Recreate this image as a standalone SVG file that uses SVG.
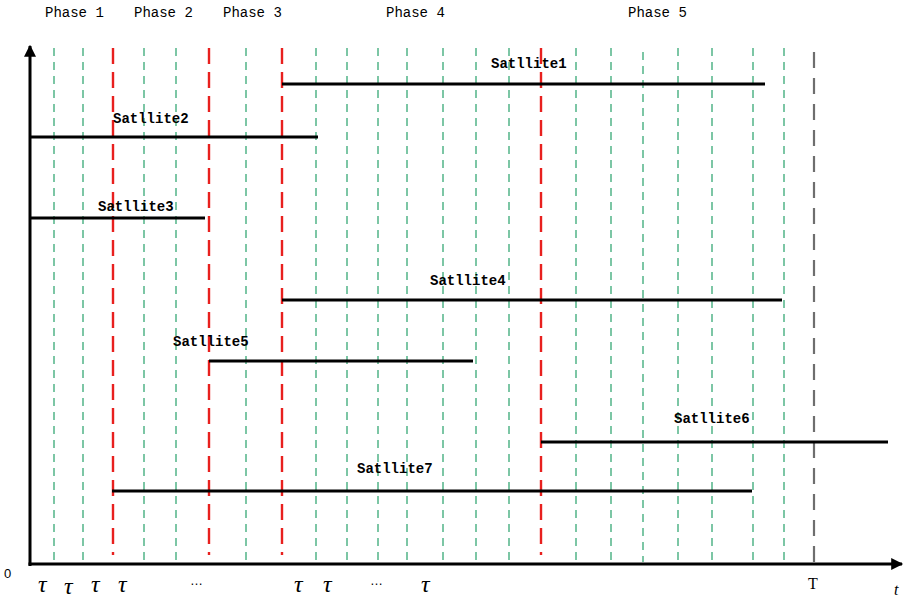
<svg xmlns="http://www.w3.org/2000/svg" width="907" height="599" viewBox="0 0 907 599">
<defs>
<style>
.g{stroke:#5cb88f;stroke-width:1.6;stroke-dasharray:8 6;fill:none}
.r{stroke:#e8201e;stroke-width:2.4;stroke-dasharray:16 8;fill:none}
.k{stroke:#6e6e6e;stroke-width:2.2;stroke-dasharray:16 10;fill:none}
.sat{stroke:#000;stroke-width:3;fill:none}
.ax{stroke:#000;stroke-width:3;fill:none}
.ph{font-family:"Liberation Mono","DejaVu Sans Mono",monospace;font-size:14px;fill:#000}
.sl{font-family:"Liberation Mono","DejaVu Sans Mono",monospace;font-size:14px;font-weight:bold;fill:#000}
.tau{font-family:"Liberation Serif","DejaVu Serif",serif;font-style:italic;font-size:24px;fill:#000}
.tx{font-family:"Liberation Sans","DejaVu Sans",sans-serif;font-size:13px;fill:#000}
</style>
<marker id="arr" viewBox="0 0 10 10" refX="9" refY="5" markerWidth="4.2" markerHeight="4" orient="auto-start-reverse" markerUnits="strokeWidth">
<path d="M0,0 L10,5 L0,10 z" fill="#000"/>
</marker>
</defs>
<rect width="907" height="599" fill="#fff"/>
<g id="phases">
<text class="ph" x="45" y="17">Phase 1</text>
<text class="ph" x="134" y="17">Phase 2</text>
<text class="ph" x="223" y="17">Phase 3</text>
<text class="ph" x="386" y="17">Phase 4</text>
<text class="ph" x="628" y="17">Phase 5</text>
</g>
<g id="grid">
<g class="g">
<line x1="54" y1="48" x2="54" y2="562"/>
<line x1="83" y1="48" x2="83" y2="562"/>
<line x1="144" y1="48" x2="144" y2="562"/>
<line x1="176" y1="48" x2="176" y2="562"/>
<line x1="246" y1="48" x2="246" y2="562"/>
<line x1="316" y1="48" x2="316" y2="562"/>
<line x1="347" y1="48" x2="347" y2="562"/>
<line x1="378" y1="48" x2="378" y2="562"/>
<line x1="407" y1="48" x2="407" y2="562"/>
<line x1="443" y1="48" x2="443" y2="562"/>
<line x1="476" y1="48" x2="476" y2="562"/>
<line x1="509" y1="48" x2="509" y2="562"/>
<line x1="576" y1="48" x2="576" y2="562"/>
<line x1="611" y1="48" x2="611" y2="562"/>
<line x1="643" y1="52" x2="643" y2="562"/>
<line x1="678" y1="48" x2="678" y2="562"/>
<line x1="712" y1="48" x2="712" y2="562"/>
<line x1="753" y1="48" x2="753" y2="562"/>
<line x1="784" y1="48" x2="784" y2="562"/>
</g>
<g class="r">
<line x1="113" y1="48" x2="113" y2="555"/>
<line x1="209" y1="48" x2="209" y2="555"/>
<line x1="282" y1="48" x2="282" y2="555"/>
<line x1="541" y1="48" x2="541" y2="555"/>
</g>
<line class="k" x1="814" y1="52" x2="814" y2="562"/>
</g>
<g id="axes">
<line class="ax" x1="30" y1="566" x2="30" y2="46" marker-end="url(#arr)"/>
<line class="ax" x1="28.5" y1="564" x2="902" y2="564" marker-end="url(#arr)"/>
</g>
<g id="connectors">
<line class="sat" x1="282" y1="84" x2="765" y2="84"/>
<line class="sat" x1="30" y1="137" x2="318" y2="137"/>
<line class="sat" x1="30" y1="218" x2="205" y2="218"/>
<line class="sat" x1="282" y1="300" x2="782" y2="300"/>
<line class="sat" x1="209" y1="361" x2="473" y2="361"/>
<line class="sat" x1="541" y1="442" x2="888" y2="442"/>
<line class="sat" x1="112" y1="491" x2="752" y2="491"/>
</g>
<g id="sat1"><text class="sl" x="491" y="68">Satllite1</text></g>
<g id="sat2"><text class="sl" x="113" y="123">Satllite2</text></g>
<g id="sat3"><text class="sl" x="98" y="211">Satllite3</text></g>
<g id="sat4"><text class="sl" x="430" y="285">Satllite4</text></g>
<g id="sat5"><text class="sl" x="173" y="346">Satllite5</text></g>
<g id="sat6"><text class="sl" x="674" y="423">Satllite6</text></g>
<g id="sat7"><text class="sl" x="357" y="473">Satllite7</text></g>
<g id="ticks">
<text class="tx" x="4" y="578">0</text>
<text class="tau" x="38" y="592">τ</text>
<text class="tau" x="64" y="594">τ</text>
<text class="tau" x="91" y="592">τ</text>
<text class="tau" x="118" y="592">τ</text>
<text class="tx" x="190" y="585">…</text>
<text class="tau" x="294" y="592">τ</text>
<text class="tau" x="323" y="592">τ</text>
<text class="tx" x="370" y="585">…</text>
<text class="tau" x="421" y="592">τ</text>
<text x="808" y="589" style="font-family:'Liberation Serif',serif;font-size:16px">T</text>
<text class="tau" x="894" y="595" style="font-size:16px">t</text>
</g>
</svg>
